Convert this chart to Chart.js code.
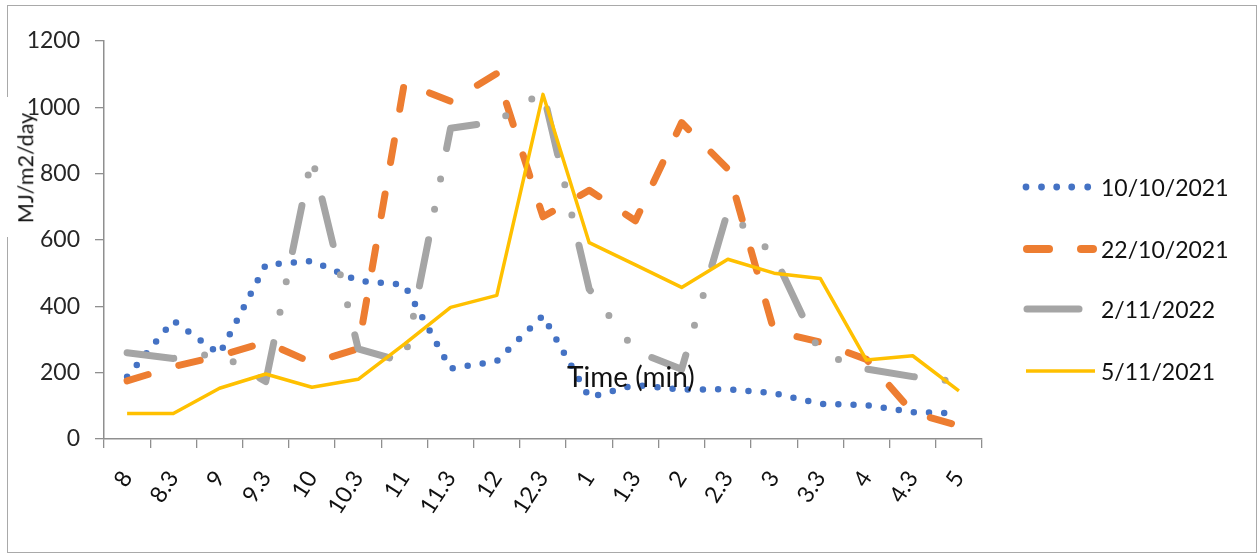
<!DOCTYPE html>
<html>
<head>
<meta charset="utf-8">
<script src="https://cdn.jsdelivr.net/npm/chart.js@4.4.1/dist/chart.umd.min.js"></script>
<style>
  html, body { margin: 0; padding: 0; background: #fff; }
  #wrap { position: relative; width: 1257px; height: 554px; overflow: hidden; font-family: Lato, "Open Sans", sans-serif; }
  #frame { position: absolute; left: 7px; top: 5px; width: 1248px; height: 546px; border: 1px solid #a9a9a9; z-index: 0; }
  #ytitleBox { position: absolute; left: 4px; top: 97px; width: 10px; height: 140px; background: #fff; z-index: 1; }
  #chart { position: absolute; left: 0; top: 0; z-index: 2; }
  .txt { position: absolute; color: #111; white-space: nowrap; z-index: 3; line-height: 1; }
  #ytitle { left: 26px; top: 168px; font-size: 21.5px; transform: translate(-50%, -50%) rotate(-90deg); }
  #xtitle { left: 567px; top: 362px; font-size: 28px; }
  #legend { position: absolute; left: 1015px; top: 160px; width: 240px; height: 240px; z-index: 3; }
  .row { position: absolute; left: 0; height: 30px; width: 240px; }
  .row svg { position: absolute; left: 0; top: 0; }
  .row span { position: absolute; left: 86px; top: 50%; transform: translateY(-50%); font-size: 23px; color: #111; line-height: 1; }
</style>
</head>
<body>
<div id="wrap">
  <div id="frame"></div>
  <div id="ytitleBox"></div>
  <canvas id="chart" width="1257" height="554"></canvas>
  <div class="txt" id="ytitle">MJ/m2/day</div>
  <div class="txt" id="xtitle">Time (min)</div>
  <div id="legend"></div>
</div>
<script>
// Time of day (hours, half-hour steps written as .3)
const timeLabels = ['8', '8.3', '9', '9.3', '10', '10.3', '11', '11.3', '12', '12.3',
                    '1', '1.3', '2', '2.3', '3', '3.3', '4', '4.3', '5'];

// Solar radiation, MJ/m2/day
const day10Oct2021 = [188, 357, 256, 525, 537, 477, 465, 212, 235, 372, 125, 163, 149, 150, 138, 106, 102, 81, 77];
const day22Oct2021 = [175, 218, 251, 292, 230, 272, 1074, 1018, 1102, 670, 750, 658, 954, 814, 325, 292, 240, 80, 40];
const day2Nov2022  = [260, 243, 258, 173, 851, 272, 232, 937, 957, 1047, 452, 265, 210, 688, 553, 258, 211, 188, 172];
const day5Nov2021  = [77, 77, 153, 196, 156, 180, 286, 397, 433, 1039, 592, 525, 457, 542, 500, 484, 238, 251, 145];

const seriesNames = ['10/10/2021', '22/10/2021', '2/11/2022', '5/11/2021'];

// y-axis ticks
const yTicks = [0, 200, 400, 600, 800, 1000, 1200];

const COLORS = { blue: '#4472C4', orange: '#ED7D31', gray: '#A5A5A5', yellow: '#FFC000' };
const FONT = 'Lato, "Open Sans", sans-serif';

const lineBase = { fill: false, tension: 0, pointRadius: 0, pointHoverRadius: 0,
                   borderCapStyle: 'round', borderJoinStyle: 'round' };

const datasets = [
  Object.assign({}, lineBase, { label: seriesNames[0], data: day10Oct2021, borderColor: COLORS.blue,
    borderWidth: 6.5, borderDash: [0, 15.2], order: 4 }),
  Object.assign({}, lineBase, { label: seriesNames[1], data: day22Oct2021, borderColor: COLORS.orange,
    borderWidth: 7, borderDash: [22, 32], order: 3 }),
  Object.assign({}, lineBase, { label: seriesNames[2], data: day2Nov2022, borderColor: COLORS.gray,
    borderWidth: 7, borderDash: [47, 31, 0, 31, 0, 31], order: 2 }),
  Object.assign({}, lineBase, { label: seriesNames[3], data: day5Nov2021, borderColor: COLORS.yellow,
    borderWidth: 3.5, borderDash: [], borderCapStyle: 'butt', order: 1 })
];

const axisColor = '#8f8f8f';

new Chart(document.getElementById('chart'), {
  type: 'line',
  data: { labels: timeLabels, datasets: datasets },
  options: {
    responsive: false,
    animation: false,
    devicePixelRatio: 1,
    layout: { padding: { top: 41, right: 275, bottom: 0, left: 0 } },
    plugins: { legend: { display: false }, tooltip: { enabled: false } },
    scales: {
      x: {
        type: 'category',
        offset: true,
        grid: { offset: true, drawOnChartArea: false, drawTicks: true, tickLength: 9, color: axisColor, lineWidth: 1.3 },
        border: { display: true, color: axisColor, width: 1.5 },
        ticks: { autoSkip: false, minRotation: 57, maxRotation: 57, padding: 18, color: '#111',
                 font: { family: FONT, size: 23 } },
        afterFit: (s) => { s.height = 554 - 439; }
      },
      y: {
        min: 0, max: 1200,
        afterBuildTicks: (s) => { s.ticks = yTicks.map(v => ({ value: v })); },
        grid: { drawOnChartArea: false, drawTicks: true, tickLength: 9, color: axisColor, lineWidth: 1.3 },
        border: { display: true, color: axisColor, width: 1.5 },
        ticks: { padding: 15, color: '#262626', font: { family: FONT, size: 23 },
                 callback: (v) => String(v) },
        afterFit: (s) => { s.width = 104; }
      }
    }
  }
});

// Legend: line samples drawn with SVG, labels as text
const legendRows = [
  { y: 27, svg: '<circle cx="11" cy="15" r="3.4" fill="' + COLORS.blue + '"/><circle cx="26.5" cy="15" r="3.4" fill="' + COLORS.blue + '"/><circle cx="41.7" cy="15" r="3.4" fill="' + COLORS.blue + '"/><circle cx="56.7" cy="15" r="3.4" fill="' + COLORS.blue + '"/><circle cx="72.7" cy="15" r="3.4" fill="' + COLORS.blue + '"/>' },
  { y: 89, svg: '<line x1="12" y1="15" x2="34" y2="15" stroke="' + COLORS.orange + '" stroke-width="8" stroke-linecap="round"/><line x1="66" y1="15" x2="78" y2="15" stroke="' + COLORS.orange + '" stroke-width="8" stroke-linecap="round"/>' },
  { y: 149, svg: '<line x1="12" y1="15" x2="64" y2="15" stroke="' + COLORS.gray + '" stroke-width="7" stroke-linecap="round"/>' },
  { y: 211, svg: '<line x1="11" y1="15" x2="80" y2="15" stroke="' + COLORS.yellow + '" stroke-width="3.5"/>' }
];
const legend = document.getElementById('legend');
legendRows.forEach((r, i) => {
  const row = document.createElement('div');
  row.className = 'row';
  row.style.top = (r.y - 15) + 'px';
  row.innerHTML = '<svg width="86" height="30">' + r.svg + '</svg><span>' + seriesNames[i] + '</span>';
  legend.appendChild(row);
});
</script>
</body>
</html>
